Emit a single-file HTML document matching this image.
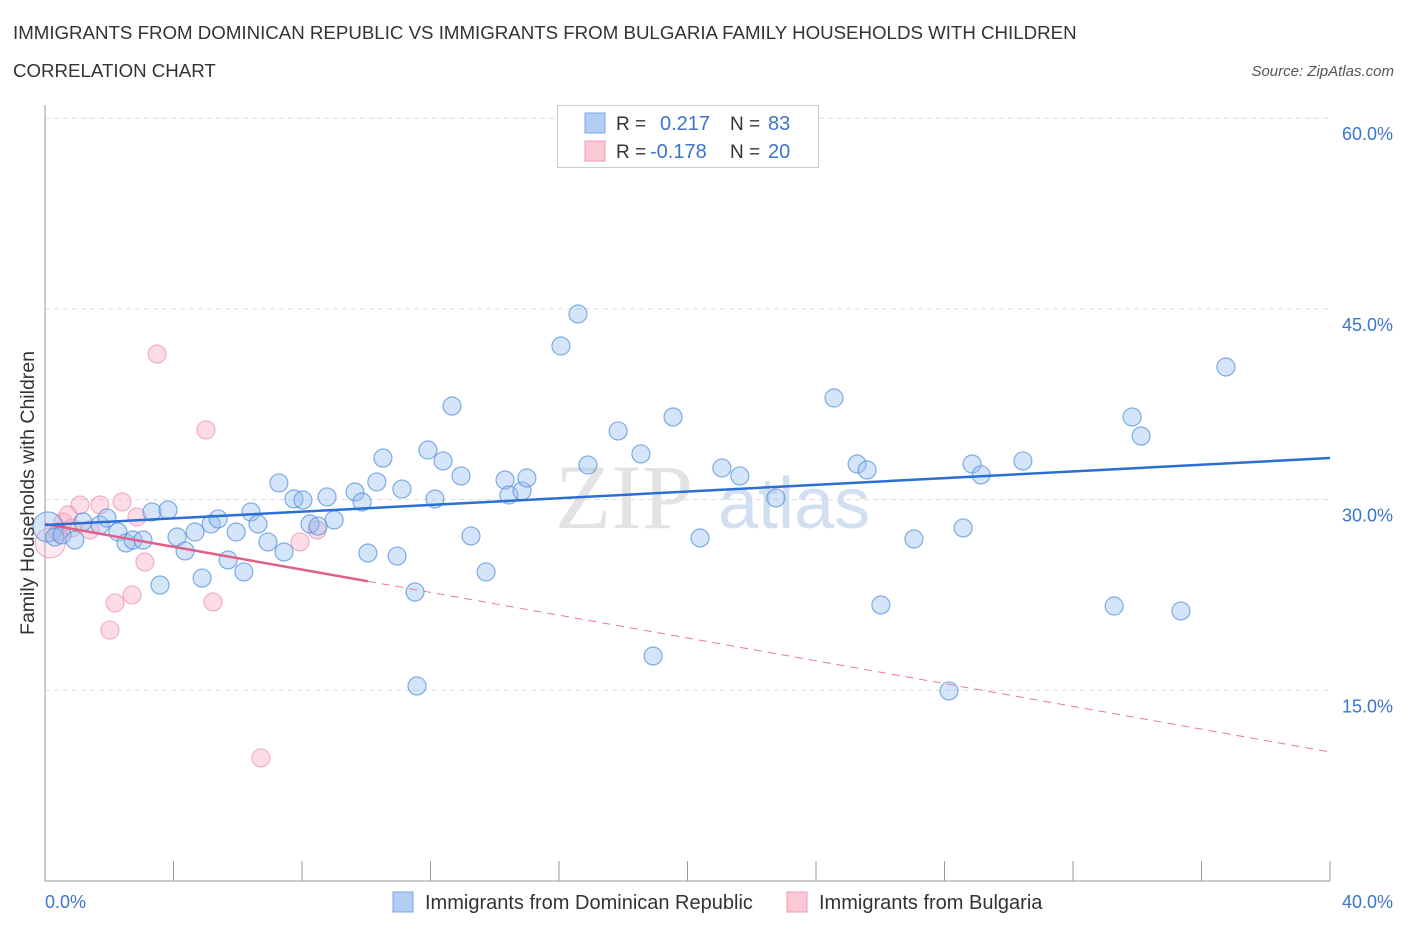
<!DOCTYPE html>
<html><head><meta charset="utf-8"><style>
body{margin:0;background:#fff;font-family:"Liberation Sans",sans-serif;}
svg{display:block}
</style></head><body>
<svg id="chart" width="1406" height="930" xmlns="http://www.w3.org/2000/svg">
<text x="13" y="39" font-size="18.7" fill="#333">IMMIGRANTS FROM DOMINICAN REPUBLIC VS IMMIGRANTS FROM BULGARIA FAMILY HOUSEHOLDS WITH CHILDREN</text>
<text x="13" y="77" font-size="18.7" fill="#333">CORRELATION CHART</text>
<text x="1394" y="76" font-size="15" fill="#555" font-style="italic" text-anchor="end">Source: ZipAtlas.com</text>
<g id="grid"></g>
<text x="555" y="528" font-size="92" font-family="Liberation Serif" fill="#ddd" opacity="0.8">ZIP</text>
<text x="718" y="528" font-size="72" fill="#c8d8ee" opacity="0.8">atlas</text>
<g id="axes"></g>
<g id="marks"></g>
<text transform="translate(34,493) rotate(-90)" font-size="19.5" fill="#333" text-anchor="middle">Family Households with Children</text>
<g>
<rect x="557.5" y="105.5" width="261" height="62" fill="#fff" stroke="#ccc"/>
<rect x="585" y="113" width="20" height="20" fill="#b3cdf5" stroke="#7aa6e6"/>
<rect x="585" y="141" width="20" height="20" fill="#fcc8d6" stroke="#ef9ab2"/>
<text x="616" y="130" font-size="19" fill="#333">R =</text>
<text x="660" y="130" font-size="20" fill="#3a74cf">0.217</text>
<text x="730" y="130" font-size="19" fill="#333">N =</text>
<text x="768" y="130" font-size="20" fill="#3a74cf">83</text>
<text x="616" y="158" font-size="19" fill="#333">R =</text>
<text x="650" y="158" font-size="20" fill="#3a74cf">-0.178</text>
<text x="730" y="158" font-size="19" fill="#333">N =</text>
<text x="768" y="158" font-size="20" fill="#3a74cf">20</text>
</g>
<g>
<rect x="393" y="892" width="20" height="20" fill="#b3cdf5" stroke="#7aa6e6"/>
<text x="425" y="909" font-size="20" fill="#333">Immigrants from Dominican Republic</text>
<rect x="787" y="892" width="20" height="20" fill="#fcc8d6" stroke="#ef9ab2"/>
<text x="819" y="909" font-size="20" fill="#333">Immigrants from Bulgaria</text>
</g>
</svg>
<script>
const yTicks=[15,30,45,60];
const yTickLabels=["15.0%","30.0%","45.0%","60.0%"];
const xTickCount=[0,4,8,12,16,20,24,28,32,36,40];
const blueX=[0.09,0.31,0.53,0.93,1.18,1.71,1.93,2.27,2.52,2.74,3.05,3.33,3.58,3.83,4.11,4.36,4.67,4.89,5.17,5.39,5.70,5.95,6.19,6.41,6.63,6.94,7.28,7.44,7.75,8.03,8.25,8.50,8.78,9.0,9.65,9.87,10.05,10.33,10.52,10.96,11.11,11.52,11.58,11.92,12.14,12.39,12.67,12.95,13.26,13.73,14.32,14.44,14.85,15.0,16.06,16.59,16.9,17.84,18.55,18.93,19.55,20.39,21.07,21.63,22.75,24.56,25.28,25.59,26.02,27.05,28.14,28.58,28.86,29.14,30.44,33.28,33.84,34.12,35.36,36.76,17.31];
const blueY=[27.85,27.06,27.22,26.82,28.24,28.0,28.55,27.45,26.59,26.82,26.82,29.03,23.28,29.18,27.06,25.96,27.45,23.83,28.08,28.48,25.25,27.45,24.31,29.03,28.08,26.67,31.31,25.88,30.05,29.97,28.08,27.92,30.21,28.4,30.6,29.81,25.8,31.39,33.27,25.56,30.83,22.73,15.34,33.9,30.05,33.04,37.36,31.86,27.14,24.31,31.54,30.36,30.68,31.7,42.08,44.6,32.72,35.4,33.59,17.7,36.5,26.98,32.49,31.86,30.13,37.99,32.8,32.33,21.71,26.9,14.95,27.77,32.8,31.94,33.04,21.63,36.5,35.0,21.24,40.43,59.86];
const pinkX=[0.16,0.56,0.84,1.09,1.40,1.71,2.40,2.86,7.94,8.47,3.11,2.71,2.18,5.23,2.02,3.49,5.01,6.72,0.4,0.72];
const pinkY=[26.59,28.24,27.77,29.58,27.61,29.58,29.81,28.63,26.67,27.61,25.09,22.5,21.87,21.95,19.74,41.45,35.48,9.68,27.45,28.8];
const blueTrend=[28.0,33.27];
const pinkTrend=[28.08,10.15];
const pinkSolidEnd=10.05;
const NS="http://www.w3.org/2000/svg";
const X=v=>45+v/40*1285;
const Y=v=>881-v/15*190.7;
function mk(tag,attrs,parent){const e=document.createElementNS(NS,tag);for(const k in attrs)e.setAttribute(k,attrs[k]);parent.appendChild(e);return e;}
const grid=document.getElementById('grid'),axes=document.getElementById('axes'),marks=document.getElementById('marks');
yTicks.forEach((t,i)=>{
 const l=mk('line',{x1:45,x2:1330,y1:Y(t),y2:Y(t),stroke:'#ddd','stroke-dasharray':'5,4'},grid);
 
 
 const tx=mk('text',{x:1393,y:Y(t)+22,'font-size':18,fill:'#3a74cf','text-anchor':'end'},axes);
 tx.textContent=yTickLabels[i];
 
 
});
const ya=mk('line',{x1:45,x2:45,y1:105,y2:881,stroke:'#999'},axes);


const xa=mk('line',{x1:45,x2:1330,y1:881,y2:881,stroke:'#999'},axes);


xTickCount.forEach(t=>{
 const l=mk('line',{x1:X(t),x2:X(t),y1:861,y2:881,stroke:'#999'},axes);
 
 
});
const xl0=mk('text',{x:45,y:908,'font-size':18,fill:'#3a74cf'},axes);xl0.textContent='0.0%';


const xl1=mk('text',{x:1393,y:908,'font-size':18,fill:'#3a74cf','text-anchor':'end'},axes);xl1.textContent='40.0%';


pinkX.forEach((x,i)=>{
 const c=mk('circle',{cx:X(x),cy:Y(pinkY[i]),r:i==0?15:9,fill:i==0?'rgba(248,170,195,0.25)':'rgba(248,170,195,0.4)',stroke:'rgba(236,130,165,0.6)','stroke-width':1.2},marks);
 
 
});
blueX.forEach((x,i)=>{
 const c=mk('circle',{cx:X(x),cy:Y(blueY[i]),r:i==0?15:9,fill:'rgba(150,190,240,0.4)',stroke:'rgba(80,140,220,0.7)','stroke-width':1.2},marks);
 
 
});
const pAt=x=>pinkTrend[0]+(pinkTrend[1]-pinkTrend[0])*x/40;
const pd=mk('line',{x1:X(pinkSolidEnd),y1:Y(pAt(pinkSolidEnd)),x2:X(40),y2:Y(pinkTrend[1]),stroke:'#e8799e','stroke-width':1,'stroke-dasharray':'8,6'},marks);


const ps=mk('line',{x1:X(0),y1:Y(pinkTrend[0]),x2:X(pinkSolidEnd),y2:Y(pAt(pinkSolidEnd)),stroke:'#e0608a','stroke-width':2.5},marks);


const bt=mk('line',{x1:X(0),y1:Y(blueTrend[0]),x2:X(40),y2:Y(blueTrend[1]),stroke:'#2a6fd4','stroke-width':2.5},marks);


</script>
</body></html>
